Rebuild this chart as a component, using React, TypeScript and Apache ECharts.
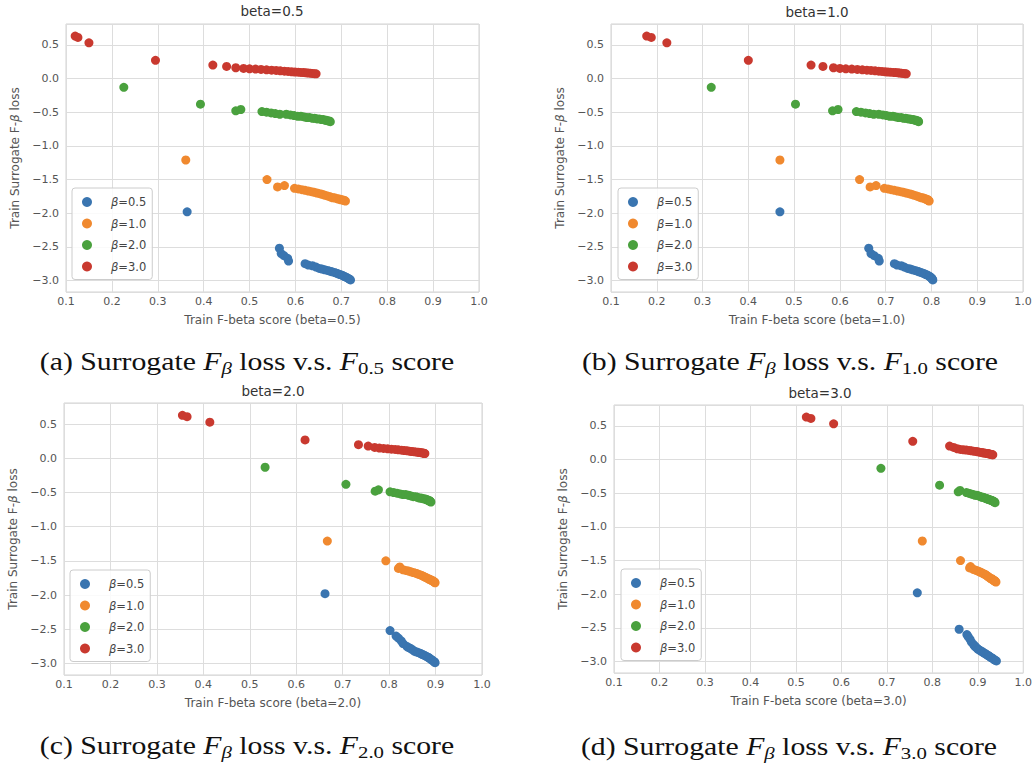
import React, { useEffect, useRef } from 'react';
import * as echarts from 'echarts';

// ---------- data ----------
const seriesNames = ['β=0.5', 'β=1.0', 'β=2.0', 'β=3.0'];
const panelBetas = ['0.5', '1.0', '2.0', '3.0'];
const panelTags = ['a', 'b', 'c', 'd'];
const xTicks = [0.1, 0.2, 0.3, 0.4, 0.5, 0.6, 0.7, 0.8, 0.9, 1.0];
const yTicks = [-3.0, -2.5, -2.0, -1.5, -1.0, -0.5, 0.0, 0.5];

// surrogate loss (y), shared by all panels
const lossB05 = [-1.98, -2.52, -2.6, -2.63, -2.67, -2.71, -2.75, -2.77, -2.78, -2.8, -2.82, -2.83, -2.84, -2.85, -2.86, -2.87, -2.88, -2.89, -2.9, -2.91, -2.92, -2.93, -2.94, -2.95, -2.96, -2.97, -2.98, -2.99];
const lossB10 = [-1.21, -1.5, -1.61, -1.59, -1.63, -1.64, -1.65, -1.66, -1.67, -1.68, -1.69, -1.7, -1.71, -1.72, -1.73, -1.74, -1.75, -1.76, -1.77, -1.77, -1.78, -1.79, -1.79, -1.8, -1.8, -1.81, -1.81, -1.82];
const lossB20 = [-0.13, -0.38, -0.48, -0.46, -0.49, -0.5, -0.51, -0.52, -0.53, -0.53, -0.54, -0.55, -0.56, -0.56, -0.57, -0.58, -0.58, -0.59, -0.59, -0.6, -0.6, -0.61, -0.61, -0.62, -0.62, -0.63, -0.63, -0.64];
const lossB30 = [0.63, 0.61, 0.53, 0.27, 0.2, 0.18, 0.16, 0.15, 0.145, 0.14, 0.135, 0.13, 0.125, 0.12, 0.115, 0.11, 0.105, 0.1, 0.097, 0.094, 0.091, 0.088, 0.085, 0.082, 0.079, 0.076, 0.073, 0.07];

// panel (a): F0.5 score
const scoreA_b05 = [0.364, 0.565, 0.569, 0.575, 0.583, 0.585, 0.621, 0.628, 0.637, 0.645, 0.652, 0.658, 0.664, 0.67, 0.675, 0.68, 0.685, 0.689, 0.693, 0.697, 0.701, 0.704, 0.707, 0.71, 0.713, 0.716, 0.718, 0.72];
const scoreA_b10 = [0.361, 0.538, 0.561, 0.576, 0.598, 0.606, 0.614, 0.621, 0.628, 0.635, 0.641, 0.647, 0.653, 0.658, 0.663, 0.668, 0.673, 0.677, 0.681, 0.685, 0.689, 0.693, 0.696, 0.699, 0.702, 0.705, 0.707, 0.709];
const scoreA_b20 = [0.226, 0.393, 0.47, 0.481, 0.527, 0.537, 0.547, 0.556, 0.566, 0.58, 0.589, 0.597, 0.605, 0.612, 0.619, 0.625, 0.631, 0.637, 0.642, 0.647, 0.652, 0.657, 0.661, 0.665, 0.668, 0.671, 0.674, 0.676];
const scoreA_b30 = [0.12, 0.126, 0.15, 0.295, 0.42, 0.45, 0.47, 0.487, 0.5, 0.513, 0.525, 0.537, 0.548, 0.558, 0.567, 0.576, 0.584, 0.592, 0.599, 0.606, 0.612, 0.618, 0.623, 0.628, 0.633, 0.637, 0.641, 0.645];

// panel (b): F1.0 score
const scoreB_b05 = [0.469, 0.663, 0.668, 0.675, 0.684, 0.686, 0.719, 0.725, 0.734, 0.741, 0.748, 0.754, 0.759, 0.764, 0.769, 0.773, 0.777, 0.781, 0.785, 0.788, 0.791, 0.794, 0.796, 0.798, 0.8, 0.801, 0.802, 0.803];
const scoreB_b10 = [0.469, 0.643, 0.666, 0.679, 0.697, 0.705, 0.712, 0.719, 0.726, 0.733, 0.739, 0.745, 0.751, 0.756, 0.761, 0.766, 0.77, 0.774, 0.778, 0.781, 0.784, 0.787, 0.789, 0.791, 0.792, 0.793, 0.794, 0.795];
const scoreB_b20 = [0.319, 0.503, 0.584, 0.596, 0.636, 0.646, 0.656, 0.665, 0.674, 0.685, 0.694, 0.702, 0.709, 0.716, 0.722, 0.728, 0.734, 0.739, 0.744, 0.749, 0.753, 0.757, 0.761, 0.764, 0.767, 0.769, 0.771, 0.772];
const scoreB_b30 = [0.178, 0.188, 0.222, 0.4, 0.537, 0.563, 0.586, 0.6, 0.613, 0.626, 0.638, 0.649, 0.659, 0.668, 0.677, 0.685, 0.692, 0.699, 0.705, 0.711, 0.717, 0.722, 0.727, 0.731, 0.735, 0.739, 0.742, 0.745];

// panel (c): F2.0 score
const scoreC_b05 = [0.662, 0.802, 0.815, 0.82, 0.826, 0.83, 0.838, 0.842, 0.846, 0.85, 0.854, 0.858, 0.862, 0.866, 0.869, 0.872, 0.875, 0.878, 0.881, 0.884, 0.886, 0.888, 0.89, 0.892, 0.894, 0.896, 0.898, 0.899];
const scoreC_b10 = [0.667, 0.793, 0.82, 0.823, 0.83, 0.836, 0.842, 0.847, 0.852, 0.857, 0.861, 0.865, 0.869, 0.872, 0.875, 0.878, 0.881, 0.884, 0.886, 0.888, 0.89, 0.892, 0.894, 0.895, 0.896, 0.897, 0.898, 0.899];
const scoreC_b20 = [0.533, 0.707, 0.77, 0.777, 0.802, 0.81, 0.817, 0.824, 0.83, 0.836, 0.842, 0.847, 0.852, 0.857, 0.861, 0.865, 0.869, 0.872, 0.875, 0.878, 0.88, 0.882, 0.884, 0.886, 0.887, 0.888, 0.889, 0.89];
const scoreC_b30 = [0.355, 0.365, 0.414, 0.619, 0.734, 0.755, 0.769, 0.779, 0.788, 0.797, 0.805, 0.813, 0.82, 0.827, 0.833, 0.839, 0.844, 0.849, 0.853, 0.857, 0.861, 0.864, 0.867, 0.87, 0.872, 0.874, 0.876, 0.877];

// panel (d): F3.0 score
const scoreD_b05 = [0.767, 0.859, 0.876, 0.879, 0.883, 0.886, 0.891, 0.893, 0.895, 0.898, 0.901, 0.904, 0.906, 0.909, 0.911, 0.913, 0.916, 0.918, 0.92, 0.923, 0.925, 0.927, 0.929, 0.932, 0.934, 0.936, 0.938, 0.941];
const scoreD_b10 = [0.778, 0.862, 0.882, 0.884, 0.89, 0.894, 0.898, 0.902, 0.905, 0.908, 0.911, 0.914, 0.917, 0.919, 0.921, 0.923, 0.925, 0.927, 0.929, 0.931, 0.932, 0.934, 0.935, 0.936, 0.937, 0.938, 0.939, 0.94];
const scoreD_b20 = [0.687, 0.816, 0.857, 0.861, 0.875, 0.88, 0.885, 0.89, 0.894, 0.898, 0.902, 0.906, 0.909, 0.912, 0.915, 0.918, 0.92, 0.922, 0.924, 0.926, 0.928, 0.93, 0.932, 0.934, 0.935, 0.936, 0.937, 0.938];
const scoreD_b30 = [0.523, 0.533, 0.583, 0.757, 0.838, 0.847, 0.855, 0.862, 0.869, 0.875, 0.881, 0.886, 0.891, 0.896, 0.9, 0.904, 0.908, 0.911, 0.914, 0.917, 0.92, 0.922, 0.924, 0.926, 0.928, 0.93, 0.932, 0.933];

// ---------- layout / style ----------
const colors = ['#3a75b0', '#f0892f', '#4aa13e', '#c9392f'];
const gridBoxes = [
  { left: 66, top: 24, width: 413, height: 268 },
  { left: 611, top: 24, width: 412, height: 268 },
  { left: 64, top: 403, width: 418, height: 272 },
  { left: 614, top: 405, width: 412, height: 268 },
];
const legendPos = [
  { left: 72, top: 188 },
  { left: 618, top: 188 },
  { left: 70, top: 570 },
  { left: 621, top: 569 },
];
const titlePos = [
  { x: 272, y: 11 },
  { x: 817, y: 12 },
  { x: 273, y: 391 },
  { x: 820, y: 393 },
];
const captionPos = [
  { x: 247, y: 362 },
  { x: 790, y: 362 },
  { x: 247, y: 746 },
  { x: 789, y: 747 },
];

const losses = [lossB05, lossB10, lossB20, lossB30];
const scores = [
  [scoreA_b05, scoreA_b10, scoreA_b20, scoreA_b30],
  [scoreB_b05, scoreB_b10, scoreB_b20, scoreB_b30],
  [scoreC_b05, scoreC_b10, scoreC_b20, scoreC_b30],
  [scoreD_b05, scoreD_b10, scoreD_b20, scoreD_b30],
];

const SANS = 'DejaVu Sans';
const SERIF = 'Liberation Serif';
const tickColor = '#555555';
const lineColor = '#dddddd';

function fmtY(v: number) {
  const r = Math.round(v * 10) / 10;
  return (r < 0 ? '\u2212' : '') + Math.abs(r).toFixed(1);
}

function buildOption() {
  const grid = gridBoxes.map((g) => ({
    ...g,
    show: true,
    borderColor: '#d3d3d3',
    borderWidth: 1,
    backgroundColor: '#ffffff',
    containLabel: false,
  }));

  const xAxis = panelBetas.map((b, i) => ({
    type: 'value',
    gridIndex: i,
    min: xTicks[0],
    max: xTicks[xTicks.length - 1],
    interval: 0.1,
    name: `Train F-beta score (beta=${b})`,
    nameLocation: 'middle',
    nameGap: 22,
    nameTextStyle: { fontFamily: SANS, fontSize: 12, color: tickColor },
    axisLine: { show: false },
    axisTick: { show: false },
    axisLabel: {
      fontFamily: SANS,
      fontSize: 11,
      color: tickColor,
      margin: 4,
      formatter: (v: number) => v.toFixed(1),
    },
    splitLine: { show: true, lineStyle: { color: lineColor, width: 1 } },
  }));

  const yAxis = panelBetas.map((b, i) => ({
    type: 'value',
    gridIndex: i,
    min: -3.17,
    max: 0.81,
    minInterval: yTicks[1] - yTicks[0],
    maxInterval: yTicks[1] - yTicks[0],
    name: 'Train Surrogate F-{i|β} loss',
    nameLocation: 'middle',
    nameGap: 45,
    nameTextStyle: {
      fontFamily: SANS,
      fontSize: 12,
      color: tickColor,
      rich: { i: { fontFamily: SANS, fontSize: 12, fontStyle: 'italic', color: tickColor } },
    },
    axisLine: { show: false },
    axisTick: { show: false },
    axisLabel: {
      fontFamily: SANS,
      fontSize: 11,
      color: tickColor,
      margin: 7,
      showMinLabel: false,
      showMaxLabel: false,
      formatter: (v: number) => fmtY(v),
    },
    splitLine: { show: true, lineStyle: { color: lineColor, width: 1 } },
  }));

  const series: any[] = [];
  for (let p = 0; p < 4; p++) {
    for (let s = 0; s < 4; s++) {
      series.push({
        type: 'scatter',
        name: seriesNames[s],
        xAxisIndex: p,
        yAxisIndex: p,
        data: scores[p][s].map((x, k) => [x, losses[s][k]]),
        symbol: 'circle',
        symbolSize: 9,
        itemStyle: { color: colors[s], opacity: 1 },
        emphasis: { disabled: true },
      });
    }
  }

  const legend = legendPos.map((pos) => ({
    left: pos.left,
    top: pos.top,
    orient: 'vertical',
    data: seriesNames,
    icon: 'circle',
    itemWidth: 10,
    itemHeight: 10,
    itemGap: 9.5,
    padding: [8, 6, 7, 10],
    borderColor: '#cccccc',
    borderWidth: 1,
    borderRadius: 3,
    backgroundColor: 'rgba(255,255,255,0.85)',
    selectedMode: false,
    formatter: (n: string) => `{pad|}{i|β}{n|${n.slice(1)}}`,
    textStyle: {
      fontFamily: SANS,
      fontSize: 11.5,
      color: '#444444',
      rich: {
        pad: { width: 14 },
        i: { fontFamily: SANS, fontSize: 11.5, fontStyle: 'italic', color: '#444444' },
        n: { fontFamily: SANS, fontSize: 11.5, color: '#444444' },
      },
    },
  }));

  const graphic: any[] = [];
  titlePos.forEach((t, i) => {
    graphic.push({
      type: 'text',
      x: t.x,
      y: t.y,
      style: {
        text: `beta=${panelBetas[i]}`,
        fontFamily: SANS,
        fontSize: 13.5,
        fill: '#333333',
        align: 'center',
        verticalAlign: 'middle',
      },
    });
  });
  captionPos.forEach((c, i) => {
    graphic.push({
      type: 'text',
      x: c.x,
      y: c.y,
      scaleX: 1.19,
      style: {
        text: `(${panelTags[i]}) Surrogate {i|F}{sb|β} loss v.s. {i|F}{sn|${panelBetas[i]}} score`,
        fontFamily: SERIF,
        fontSize: 25,
        lineHeight: 30,
        fill: '#111111',
        align: 'center',
        verticalAlign: 'middle',
        rich: {
          i: { fontFamily: SERIF, fontStyle: 'italic', fontSize: 25, lineHeight: 30, fill: '#111111' },
          sb: { fontFamily: SERIF, fontStyle: 'italic', fontSize: 17.5, lineHeight: 18, verticalAlign: 'bottom', fill: '#111111' },
          sn: { fontFamily: SERIF, fontSize: 17.5, lineHeight: 18, verticalAlign: 'bottom', fill: '#111111' },
        },
      },
    });
  });

  return {
    animation: false,
    backgroundColor: '#ffffff',
    grid,
    xAxis,
    yAxis,
    legend,
    series,
    graphic,
  };
}

export default function App() {
  const ref = useRef<HTMLDivElement>(null);
  useEffect(() => {
    const chart = echarts.init(ref.current!, undefined, { renderer: 'svg', width: 1035, height: 766 });
    chart.setOption(buildOption() as any);
    return () => chart.dispose();
  }, []);
  return (
    <div
      ref={ref}
      style={{ position: 'absolute', left: 0, top: 0, width: 1035, height: 766, background: '#ffffff' }}
    />
  );
}
